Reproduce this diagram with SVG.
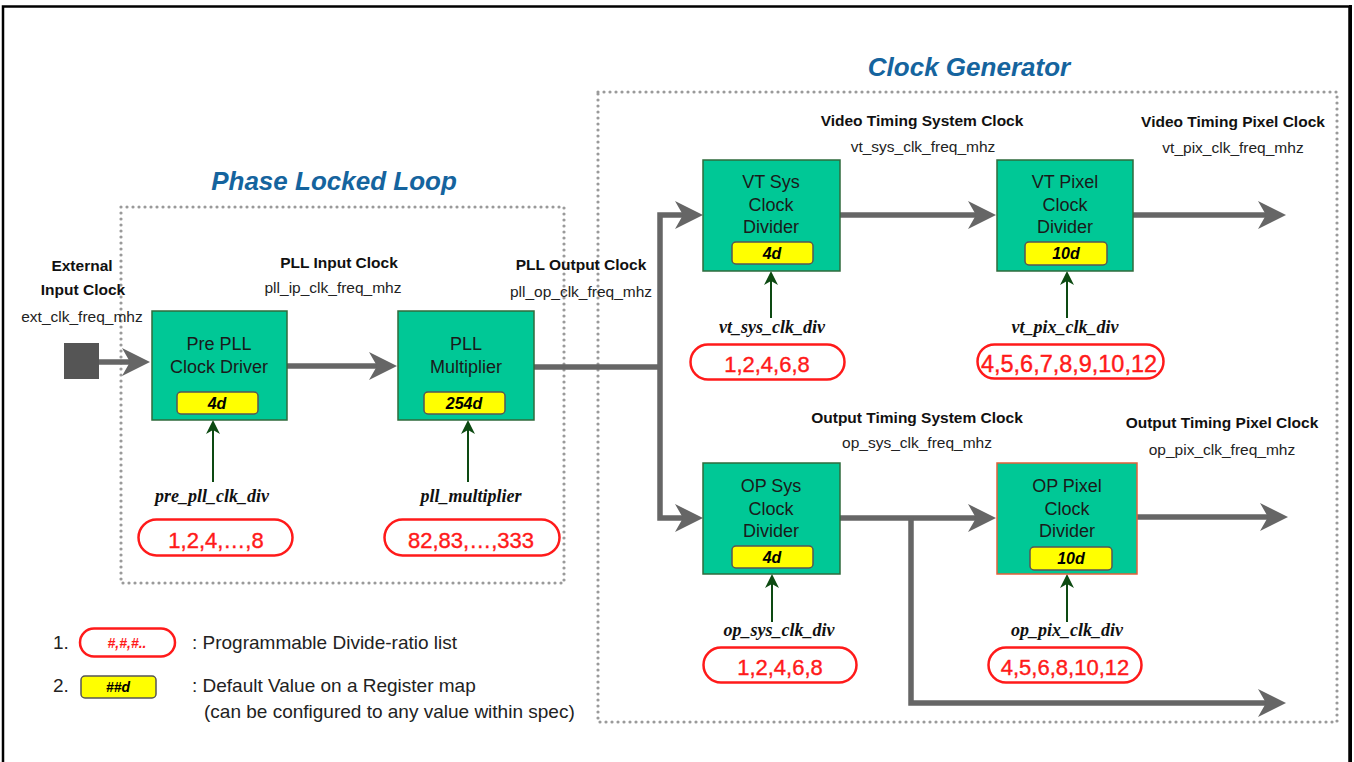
<svg xmlns="http://www.w3.org/2000/svg" width="1354" height="762" viewBox="0 0 1354 762">
  <style>
    .frame { fill: none; stroke: #000; }
    .dotbox { fill: none; stroke: #9a9a9a; stroke-width: 3.2; stroke-dasharray: 0 6; stroke-linecap: round; }
    .title { font-family: "Liberation Sans", Arial, sans-serif; font-size: 26px; font-weight: bold; font-style: italic; fill: #15649e; text-anchor: middle; }
    .blk { fill: #00c896; stroke: #2f6b3c; stroke-width: 1.5; }
    .blk-alt { fill: #00c896; stroke: #e2603a; stroke-width: 1.5; }
    .blk-text { font-family: "Liberation Sans", Arial, sans-serif; font-size: 18px; fill: #1a1a1a; text-anchor: middle; }
    .reg { fill: #ffff00; stroke: #555; stroke-width: 1.5; }
    .reg-text { font-family: "Liberation Sans", Arial, sans-serif; font-size: 16px; font-weight: bold; font-style: italic; fill: #000; text-anchor: middle; }
    .pill { fill: #fff; stroke: #ff1a1a; stroke-width: 2.5; }
    .pill-text { font-family: "Liberation Sans", Arial, sans-serif; font-size: 22px; fill: #ff1a1a; text-anchor: middle; stroke: #ff1a1a; stroke-width: 0.4; }
    .param { font-family: "Liberation Serif", "Times New Roman", serif; font-size: 18px; font-weight: bold; font-style: italic; fill: #111; text-anchor: middle; }
    .clk { font-family: "Liberation Sans", Arial, sans-serif; font-size: 15.5px; font-weight: bold; fill: #111; text-anchor: middle; }
    .freq { font-family: "Liberation Sans", Arial, sans-serif; font-size: 15.5px; fill: #222; text-anchor: middle; }
    .legend { font-family: "Liberation Sans", Arial, sans-serif; font-size: 19px; fill: #222; }
    .bus { fill: none; stroke: #666; stroke-width: 5.5; }
    .ctl { fill: none; stroke: #0d4a12; stroke-width: 2; }
  </style>
  <defs>
    <marker id="busArrow" viewBox="0 0 28 28" refX="8" refY="14" markerWidth="28" markerHeight="28" markerUnits="userSpaceOnUse" orient="auto-start-reverse">
      <path d="M0,0 L28,14 L0,28 L8,14 Z" fill="#666"/>
    </marker>
    <marker id="ctlArrow" viewBox="0 0 14 14" refX="4" refY="7" markerWidth="14" markerHeight="14" markerUnits="userSpaceOnUse" orient="auto">
      <path d="M0,0 L14,7 L0,14 L4,7 Z" fill="#0d4a12"/>
    </marker>
  </defs>

  <rect width="1354" height="762" fill="#fff"/>

  <!-- outer frame: top, left and right edges -->
  <path class="frame" d="M3,762 V6.5 H1349.5 V762" stroke-width="2.5"/>
  <line x1="1350.5" y1="5" x2="1350.5" y2="762" stroke="#000" stroke-width="3"/>

  <!-- region outlines -->
  <rect class="dotbox" x="121" y="207" width="443" height="376"/>
  <rect class="dotbox" x="598" y="92" width="739" height="630"/>
  <text class="title" x="334" y="190">Phase Locked Loop</text>
  <text class="title" x="969" y="76">Clock Generator</text>

  <!-- clock name labels -->
  <g id="labels">
    <text class="clk" x="82" y="271">External</text>
    <text class="clk" x="83" y="295">Input Clock</text>
    <text class="freq" x="82" y="322">ext_clk_freq_mhz</text>

    <text class="clk" x="339" y="268">PLL Input Clock</text>
    <text class="freq" x="333" y="293">pll_ip_clk_freq_mhz</text>

    <text class="clk" x="581" y="270">PLL Output Clock</text>
    <text class="freq" x="581" y="297">pll_op_clk_freq_mhz</text>

    <text class="clk" x="922" y="126">Video Timing System Clock</text>
    <text class="freq" x="923" y="152">vt_sys_clk_freq_mhz</text>

    <text class="clk" x="1233" y="127">Video Timing Pixel Clock</text>
    <text class="freq" x="1233" y="153">vt_pix_clk_freq_mhz</text>

    <text class="clk" x="917" y="423">Output Timing System Clock</text>
    <text class="freq" x="917" y="448">op_sys_clk_freq_mhz</text>

    <text class="clk" x="1222" y="428">Output Timing Pixel Clock</text>
    <text class="freq" x="1222" y="455">op_pix_clk_freq_mhz</text>
  </g>

  <!-- clock paths -->
  <g id="connectors">
    <path class="bus" d="M99,362 H130" marker-end="url(#busArrow)"/>
    <path class="bus" d="M287,366 H377" marker-end="url(#busArrow)"/>
    <path class="bus" d="M534,367 H660"/>
    <path class="bus" d="M683,215 H660 V518 H683" marker-start="url(#busArrow)" marker-end="url(#busArrow)"/>
    <path class="bus" d="M840,215 H976" marker-end="url(#busArrow)"/>
    <path class="bus" d="M1133,215 H1266" marker-end="url(#busArrow)"/>
    <path class="bus" d="M840,518 H976" marker-end="url(#busArrow)"/>
    <path class="bus" d="M911,518 V703 H1266" marker-end="url(#busArrow)"/>
    <path class="bus" d="M1137,517 H1268" marker-end="url(#busArrow)"/>

    <path class="ctl" d="M213,482 V430" marker-end="url(#ctlArrow)"/>
    <path class="ctl" d="M468,482 V430" marker-end="url(#ctlArrow)"/>
    <path class="ctl" d="M771,318 V281" marker-end="url(#ctlArrow)"/>
    <path class="ctl" d="M1067,318 V281" marker-end="url(#ctlArrow)"/>
    <path class="ctl" d="M772,622 V584" marker-end="url(#ctlArrow)"/>
    <path class="ctl" d="M1067,622 V584" marker-end="url(#ctlArrow)"/>
  </g>

  <!-- external clock source -->
  <g id="ext-clk">
    <rect x="64" y="343" width="35" height="36" fill="#555"/>
  </g>

  <g id="pre-pll">
    <rect class="blk" x="152" y="311" width="135" height="109"/>
    <text class="blk-text" x="219" y="350">Pre PLL</text>
    <text class="blk-text" x="219" y="373">Clock Driver</text>
    <rect class="reg" x="177" y="392" width="81" height="22" rx="4"/>
    <text class="reg-text" x="217" y="409">4d</text>
    <text class="param" x="212" y="502">pre_pll_clk_div</text>
    <rect class="pill" x="138.5" y="519.5" width="154" height="36" rx="18"/>
    <text class="pill-text" x="216" y="548">1,2,4,…,8</text>
  </g>

  <g id="pll-mult">
    <rect class="blk" x="398" y="311" width="136" height="109"/>
    <text class="blk-text" x="466" y="350">PLL</text>
    <text class="blk-text" x="466" y="373">Multiplier</text>
    <rect class="reg" x="424" y="392" width="81" height="22" rx="4"/>
    <text class="reg-text" x="464" y="409">254d</text>
    <text class="param" x="471" y="502">pll_multiplier</text>
    <rect class="pill" x="384.5" y="519.5" width="175" height="36" rx="18"/>
    <text class="pill-text" x="471" y="548">82,83,…,333</text>
  </g>

  <g id="vt-sys">
    <rect class="blk" x="703" y="160" width="137" height="111"/>
    <text class="blk-text" x="771" y="188">VT Sys</text>
    <text class="blk-text" x="771" y="211">Clock</text>
    <text class="blk-text" x="771" y="233">Divider</text>
    <rect class="reg" x="732" y="242" width="81" height="22" rx="4"/>
    <text class="reg-text" x="772" y="259">4d</text>
    <text class="param" x="772" y="333">vt_sys_clk_div</text>
    <rect class="pill" x="690.5" y="344.5" width="154" height="35" rx="17.5"/>
    <text class="pill-text" x="767" y="372">1,2,4,6,8</text>
  </g>

  <g id="vt-pix">
    <rect class="blk" x="997" y="160" width="136" height="111"/>
    <text class="blk-text" x="1065" y="188">VT Pixel</text>
    <text class="blk-text" x="1065" y="211">Clock</text>
    <text class="blk-text" x="1065" y="233">Divider</text>
    <rect class="reg" x="1025" y="242" width="82" height="23" rx="4"/>
    <text class="reg-text" x="1066" y="259">10d</text>
    <text class="param" x="1065" y="333">vt_pix_clk_div</text>
    <rect class="pill" x="977.5" y="344.5" width="186" height="34" rx="17"/>
    <text class="pill-text" x="1069" y="372" textLength="176" lengthAdjust="spacingAndGlyphs" style="font-size:23px">4,5,6,7,8,9,10,12</text>
  </g>

  <g id="op-sys">
    <rect class="blk" x="703" y="463" width="137" height="111"/>
    <text class="blk-text" x="771" y="492">OP Sys</text>
    <text class="blk-text" x="771" y="515">Clock</text>
    <text class="blk-text" x="771" y="537">Divider</text>
    <rect class="reg" x="732" y="546" width="81" height="22" rx="4"/>
    <text class="reg-text" x="772" y="563">4d</text>
    <text class="param" x="779" y="636">op_sys_clk_div</text>
    <rect class="pill" x="703.5" y="647.5" width="153" height="35" rx="17.5"/>
    <text class="pill-text" x="780" y="675">1,2,4,6,8</text>
  </g>

  <g id="op-pix">
    <rect class="blk-alt" x="997" y="463" width="140" height="111"/>
    <text class="blk-text" x="1067" y="492">OP Pixel</text>
    <text class="blk-text" x="1067" y="515">Clock</text>
    <text class="blk-text" x="1067" y="537">Divider</text>
    <rect class="reg" x="1030" y="547" width="82" height="23" rx="4"/>
    <text class="reg-text" x="1071" y="564">10d</text>
    <text class="param" x="1067" y="636">op_pix_clk_div</text>
    <rect class="pill" x="988.5" y="647.5" width="153" height="35" rx="17.5"/>
    <text class="pill-text" x="1065" y="675">4,5,6,8,10,12</text>
  </g>

  <!-- key -->
  <g id="legend">
    <text class="legend" x="53" y="649">1.</text>
    <rect class="pill" x="80" y="628.5" width="95" height="28" rx="14"/>
    <text class="reg-text" x="127" y="648" style="fill:#ff1a1a;font-size:14px">#,#,#..</text>
    <text class="legend" x="192" y="649">: Programmable Divide-ratio list</text>

    <text class="legend" x="53" y="692">2.</text>
    <rect class="reg" x="81" y="676" width="75" height="22" rx="4"/>
    <text class="reg-text" x="118" y="692" style="font-size:14px">##d</text>
    <text class="legend" x="192" y="692">: Default Value on a Register map</text>
    <text class="legend" x="204" y="718">(can be configured to any value within spec)</text>
  </g>
</svg>
